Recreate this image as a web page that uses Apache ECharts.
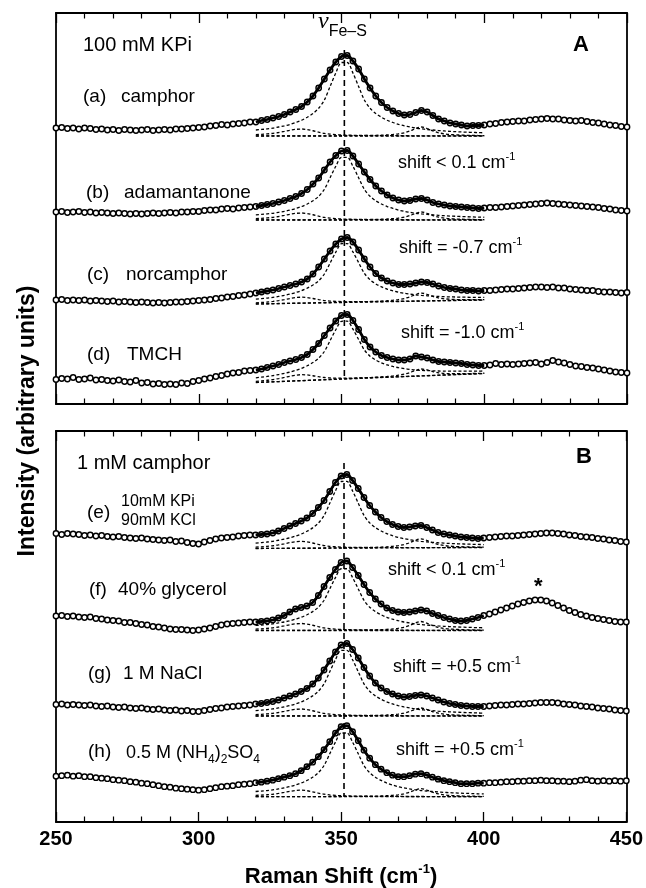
<!DOCTYPE html>
<html><head><meta charset="utf-8">
<script src="https://cdn.jsdelivr.net/npm/echarts@6/dist/echarts.min.js"></script>
<style>html,body{margin:0;padding:0;background:#fff}#c{width:646px;height:888px}</style>
</head><body><div id="c"></div>
<script>
// ---------- data ----------
const X_START = 250, X_STEP = 2;          // observed spectra sampling (cm-1)
const C_START = 320, C_STEP = 2;          // fit / component range (cm-1)
const X_MIN = 250, X_MAX = 450, X_INTERVAL = 50;
const BAND_X = 351;                       // nu(Fe-S) marker position

const labels = ['(a)','(b)','(c)','(d)','(e)','(f)','(g)','(h)'];
const panelOf = [0,0,0,0,1,1,1,1];

// intensity above each trace's component baseline (arbitrary units)
const obsA = [8,8.5,7.5,8,7,8,7.5,6.5,7,6, 6.5,5.5,6.5,6,5.5,6,6.5,5.5,6,6.5, 6,7,7,7.5,8,8.5,9,10,10.5,11.5,
  11,12,12.5,13,14,14,15.5,16.5,18,19.5, 21.5,24,26.5,29.5,34,40,48,57,66,74, 79.5,80.5,75,67,57,48,40,33.5,28.5,25,
  22.5,21,21.5,23.5,25.5,24,20.5,17,15,13, 12,11,10,10.5,10.5,11,12,12.5,13.5,14, 14.5,15,15,16,16.5,17,17.5,17,17,16,
  15.5,15,15.5,14.5,13.5,13,12,11,10.5,9.5, 9];
const obsB = [8,8.5,7.5,8,8.5,7.5,8,7,7.5,7, 6.5,7,6.5,6,6.5,6,6.5,7,6.5,7, 7.5,7,8,8,8.5,8.5,9.5,10,10,11,
  11.5,11,12,12.5,13,13.5,14.5,15.5,16.5,18, 19.5,21.5,23.5,26.5,30.5,36,42,50,58,64.5, 69,69.5,64,56,48,40.5,34,29,25,22,
  20,19,19.5,21,21.5,20,17.5,16,15,14, 13.5,13,12.5,12,11.5,12,12.5,12.5,13,13.5, 14,14.5,15,15.5,16,16.5,17,16.5,16,15.5,
  15,14.5,14,13.5,13,12.5,11.5,11,10,9.5, 9];
const obsC = [3,3.5,2.5,3,2.5,3,2,2.5,2,1.5, 2,1,1.5,1,0.5,1,0.5,0,0.5,0, 0.5,1,1,1.5,2,2.5,3,3.5,4.5,5,
  6,6.5,7.5,8,9,10,11,12,13,14.5, 16,17.5,19,21,24,29,36,44,52,59, 64,65.5,61,53,44,36,29.5,25,22,20,
  18.5,18.5,19,20,21,20.5,19,17,15.5,14.5, 14,13,12.5,12.5,12,12.5,12.5,13,13.5,14, 14,14.5,15,15.5,16,16,15.5,16,15,15,
  14,13.5,13,12.5,12.5,11.5,11,11,10.5,10, 10.5];
const obsD = [0,1,0.5,2,0,0.5,1.5,-0.5,0,-1, -1.5,-0.5,-2,-2.5,-1,-3.5,-3,-4.5,-4,-5, -4.5,-5,-3.5,-4,-2,-1,0.5,1.5,3,4,
  5.5,6.5,7,8.5,9,9.5,10.5,12,13.5,15, 17,18.5,20,22,25,30,36,44,51.5,58.5, 64,65,59,50,40,32.5,27.5,24,22,20.5,
  19.5,19.5,20.5,23.5,22.5,21.5,19.5,18,17.5,17, 16.5,16,15,14.5,14,14,14.5,16,15,15.5, 15,15.5,16,16.5,17,15.5,17,19,17.5,16.5,
  15,13.5,13,12,11.5,10.5,9.5,8.5,7.5,7, 6.5];
const obsE = [15,14,15,14.5,14,13,13.5,12.5,13,12, 11.5,12,11,10.5,10,10.5,9.5,9,8.5,8, 8.5,7,7.5,6,5,4.5,6.5,8,9.5,10.5,
  11,11.5,12.5,13,13.5,13.5,14,14.5,15.5,17.5, 20,22.5,25,27.5,30.5,35,41,48,57,66, 72.5,74,68,60,51,43,36.5,31,27,24,
  22,21,21.5,22.5,23,21,18.5,16,14.5,13.5, 12.5,11.5,11,10.5,10,10.5,11,11.5,12,12.5, 12.5,13,13.5,14,14.5,15,15.5,15.5,15,14.5,
  13.5,13,12,11.5,11,10,9.5,8.5,8,7, 6.5];
const obsF = [14.5,15,14,14.5,13.5,13,13.5,12,11.5,10.5, 10,9.5,8,8,7,6,5.5,4,3.5,2.5, 1.5,1,1,0.5,0,0.5,1.5,2.5,4,5.5,
  6.5,7,7.5,8,8.5,8.5,9,9.5,10.5,12.5, 15,18.5,21.5,23,24.5,28,35,44,53,61, 68,69.5,63,55,46,38,31.5,26.5,22.5,20,
  18.5,18,18.5,19.5,20.5,19.5,17,15,13,11.5, 10,9.5,10,11.5,13,15,16.5,18.5,20.5,22.5, 24.5,26.5,28,29.5,30.5,30.5,29.5,27.5,25,22.5,
  20,18,16,14.5,13,12,11,10,9,8.5, 8.5];
const obsG = [11.5,12,11,11.5,11,10.5,11,10,9.5,10, 9,8.5,9,8,7.5,8,7,6.5,7,6, 5.5,6,5,5.5,4.5,4.5,5.5,6.5,7.5,8,
  9,9.5,10,10.5,11,12,12.5,13.5,14.5,16, 18,20,22,24.5,27.5,32,38,46,55,64, 71,72.5,66.5,58,48.5,40,33,28,24.5,22,
  20,19,19.5,20.5,21,20,18,16,14,12.5, 11.5,10.5,10,9.5,9.5,9.5,10,10.5,11,11, 11.5,12,12,12.5,13,13.5,13.5,13.5,13,12,
  11.5,11,10,9.5,9,8,7.5,7,6,5.5, 5];
const obsH = [20.5,21,21.5,20.5,21,20,20,19,18.5,18, 17,16.5,16,15,14.5,13.5,13,12,11,10, 9.5,8.5,8,7.5,7,6.5,7,8,9,10,
  10.5,11,12,12.5,13,14,14.5,15.5,16.5,18, 19.5,21,23,26,30,34.5,40,47,55,63.5, 70,71,65,56,46.5,38.5,32,27.5,24,21.5,
  20,20,21,22.5,23,21.5,19.5,17.5,16,15, 14,13,13,13,13.5,13.5,14,14,14.5,15, 15,15.5,15.5,16,16,16.5,16,16,15.5,15.5,
  15,15.5,16.5,17,16,15.5,16,15.5,16,15.5, 16];
const observed = [obsA, obsB, obsC, obsD, obsE, obsF, obsG, obsH];

// vertical placement of each trace's component baseline (panel units, from panel bottom)
const offsets = [268, 184, 101, 24.5, 273.5, 191.5, 106, 25.3];
// component-baseline ends (relative) at 320 and 400 cm-1
const baseStart = [0, 0, -1, -3, 0, 0, 0, 0];
const baseEnd   = [0, 0,  3,  6, 1, 0, 0, 0];
// component heights
const mainHeight     = [75, 64, 60, 59, 68, 63, 67, 65];
const shoulderHeight = [7, 7, 6, 6, 7, 7, 7, 6.5];
const band378Height  = [9, 8, 8, 7, 9, 9, 8, 8];
// component profiles (percent of peak) 320..400 cm-1
const mainShape = [8,8.7,9.5,10.5,12,13.5,15.5,18,21,25, 30,37,48,66,84,98,98,84,66,48,
  37,30,25,21,18,15.5,13.5,12,10.5,9.5, 8.7,8,7.3,6.7,6.2,5.8,5.4,5.1,4.8,4.5, 4.3];
const shoulderShape = [20,24,30,38,50,65,82,95,100,92, 75,55,38,27,20,15,12,10,8.5,7.3,
  6.4,5.7,5.1,4.6,4.2,3.8,3.5,3.2,3,2.8, 2.6,2.4,2.3,2.1,2,1.9,1.8,1.7,1.6,1.5, 1.5];
const band378Shape = [0.8,0.8,0.9,0.9,1,1.1,1.2,1.3,1.4,1.5, 1.6,1.8,2,2.2,2.5,2.8,3.2,3.7,4.3,5.1,
  6.2,7.5,9.5,12.5,17,24,36,56,83,100, 83,56,36,24,17,12.5,9.5,7.5,6.2,5.1, 4.3];
// vertical marker extents per panel [top, bottom]
const markerSpan = [[354, 24.5], [359, 25.3]];

// ---------- build ----------
const FONT = '"Liberation Sans", Arial, Helvetica, sans-serif';
const series = [];
const dashComp = {color:'#000', width:1.3, type:[3,2.2]};

observed.forEach((vals, k) => {
  const p = panelOf[k], off = offsets[k];
  const obsPts = vals.map((v,i) => [X_START + i*X_STEP, off + v]);
  series.push({type:'line', xAxisIndex:2*p, yAxisIndex:2*p, data:obsPts, symbol:'circle', symbolSize:5.4,
    showAllSymbol:true, silent:true, animation:false, z:3,
    lineStyle:{color:'#111', width:1.8}, itemStyle:{color:'#fff', borderColor:'#000', borderWidth:1.4}});
  // fit through the data in the fitted window
  const fitPts = obsPts.filter(d => d[0] >= C_START && d[0] <= 400);
  series.push({type:'line', xAxisIndex:2*p, yAxisIndex:2*p, data:fitPts, symbol:'none', smooth:0.35,
    silent:true, animation:false, z:6, lineStyle:{color:'#000', width:2.8}});
  const baseAt = i => baseStart[k] + (baseEnd[k]-baseStart[k]) * i / (mainShape.length-1);
  const comp = (shape, h) => shape.map((s,i) => [C_START + i*C_STEP, off + baseAt(i) + h*s/100]);
  series.push({type:'line', xAxisIndex:2*p, yAxisIndex:2*p, symbol:'none', silent:true, animation:false, z:5,
    data:[[C_START, off+baseStart[k]], [400, off+baseEnd[k]]], lineStyle:dashComp});
  [[mainShape, mainHeight[k]], [shoulderShape, shoulderHeight[k]], [band378Shape, band378Height[k]]].forEach(([s,h]) => {
    series.push({type:'line', xAxisIndex:2*p, yAxisIndex:2*p, symbol:'none', smooth:0.3, silent:true, animation:false, z:5,
      data:comp(s,h), lineStyle:dashComp});
  });
});
markerSpan.forEach((sp, p) => {
  series.push({type:'line', xAxisIndex:2*p, yAxisIndex:2*p, symbol:'none', silent:true, animation:false, z:4,
    data:[[BAND_X, sp[0]], [BAND_X, sp[1]]], lineStyle:{color:'#000', width:1.6, type:[6,4]}});
});

function xAxisDef(grid, pos, showLabel){
  return {type:'value', gridIndex:grid, position:pos, min:X_MIN, max:X_MAX, interval:X_INTERVAL,
    axisLine:{show:true, onZero:false, lineStyle:{color:'#000', width:1.8}},
    axisTick:{show:true, inside:true, length:10, lineStyle:{color:'#000', width:1.3}},
    minorTick:{show:true, splitNumber:5, length:5.5, lineStyle:{color:'#000', width:1.2}},
    splitLine:{show:false},
    axisLabel:{show:showLabel, color:'#000', fontSize:20, fontWeight:'bold', fontFamily:FONT, margin:7}};
}
function yAxisDef(grid, pos){
  return {type:'value', gridIndex:grid, position:pos, min:0, max:391,
    axisLine:{show:true, onZero:false, lineStyle:{color:'#000', width:1.8}},
    axisTick:{show:false}, axisLabel:{show:false}, splitLine:{show:false}};
}

const T = (text, x, y, size, opts={}) => ({type:'text', x, y, z:50, silent:true,
  style:Object.assign({text, fill:'#000', font:`${opts.weight||'normal'} ${size}px ${FONT}`,
    textAlign:opts.align||'left', textVerticalAlign:'middle'}, opts.style||{}), rotation:opts.rot||0});

const supRich = size => ({ n:{fontSize:size, fontFamily:FONT, fill:'#000', lineHeight:size+6},
  s:{fontSize:Math.round(size*0.6), fontFamily:FONT, fill:'#000', verticalAlign:'top', lineHeight:size+6},
  b:{fontSize:Math.round(size*0.65), fontFamily:FONT, fill:'#000', verticalAlign:'bottom', lineHeight:size+8}});

const shiftTxt = (t, x, y) => ({type:'text', x, y, z:50, silent:true,
  style:{text:`{n|${t} cm}{s|-1}`, rich:supRich(18), textVerticalAlign:'middle'}});

const graphics = [
  T('100 mM KPi', 83, 45, 20),
  T('A', 573, 45, 22, {weight:'bold'}),
  {type:'text', x:318, y:25, z:50, silent:true, style:{text:'{v|ν}{f|Fe–S}', textVerticalAlign:'middle',
    rich:{v:{fontSize:24, fontFamily:'"Liberation Serif", serif', fontStyle:'italic', fill:'#000', lineHeight:30, verticalAlign:'top'},
          f:{fontSize:16, fontFamily:FONT, fill:'#000', lineHeight:30, verticalAlign:'bottom'}}}},
  T('(a)', 83, 97, 19), T('camphor', 121, 97, 19),
  T('(b)', 86, 193, 19), T('adamantanone', 124, 193, 19),
  T('(c)', 87, 275, 19), T('norcamphor', 126, 275, 19),
  T('(d)', 87, 355, 19), T('TMCH', 127, 355, 19),
  shiftTxt('shift < 0.1', 398, 163), shiftTxt('shift = -0.7', 399, 248), shiftTxt('shift = -1.0', 401, 333),
  T('1 mM camphor', 77, 463, 20),
  T('B', 576, 457, 22, {weight:'bold'}),
  T('(e)', 87, 513, 19), T('10mM KPi', 121, 502, 16), T('90mM KCl', 121, 521, 16),
  T('(f)', 89, 590, 19), T('40% glycerol', 118, 590, 19),
  shiftTxt('shift < 0.1', 388, 570),
  T('*', 534, 587, 22, {weight:'bold'}),
  T('(g)', 88, 674, 19), T('1 M NaCl', 123, 674, 19),
  shiftTxt('shift = +0.5', 393, 667),
  T('(h)', 88, 752, 19),
  {type:'text', x:126, y:753, z:50, silent:true, style:{textVerticalAlign:'middle',
    text:'{n|0.5 M (NH}{b|4}{n|)}{b|2}{n|SO}{b|4}', rich:supRich(18)}},
  shiftTxt('shift = +0.5', 396, 750),
  {type:'text', x:341, y:877, z:50, silent:true, style:{textAlign:'center', textVerticalAlign:'middle',
    text:'{n|Raman Shift (cm}{s|-1}{n|)}', rich:{
      n:{fontSize:22, fontWeight:'bold', fontFamily:FONT, fill:'#000', lineHeight:28},
      s:{fontSize:13, fontWeight:'bold', fontFamily:FONT, fill:'#000', lineHeight:28, verticalAlign:'top'}}}},
  T('Intensity (arbitrary units)', 28, 421, 23, {weight:'bold', align:'center', rot:Math.PI/2})
];

const chart = echarts.init(document.getElementById('c'), null, {renderer:'canvas'});
chart.setOption({
  animation:false,
  backgroundColor:'#fff',
  grid:[{left:56, right:19, top:13, bottom:484}, {left:56, right:19, top:431, bottom:66}],
  xAxis:[xAxisDef(0,'bottom',false), xAxisDef(0,'top',false), xAxisDef(1,'bottom',true), xAxisDef(1,'top',false)],
  yAxis:[yAxisDef(0,'left'), yAxisDef(0,'right'), yAxisDef(1,'left'), yAxisDef(1,'right')],
  series,
  graphic:graphics
});
</script></body></html>
